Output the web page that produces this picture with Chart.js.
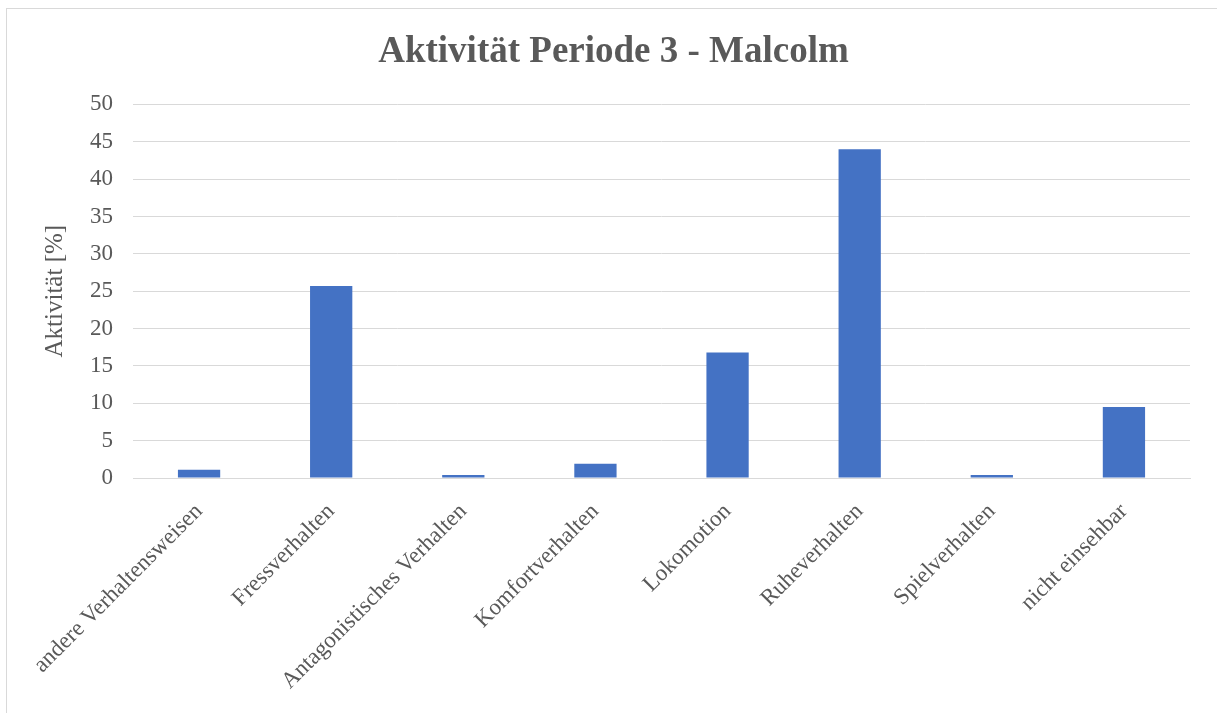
<!DOCTYPE html>
<html>
<head>
<meta charset="utf-8">
<script src="https://cdn.jsdelivr.net/npm/chart.js@4"></script>
<style>
    body { margin: 0; background: #fff; }
    #wrap { position: relative; width: 1217px; height: 713px; overflow: hidden; }
    #frame { position: absolute; left: 6px; top: 8px; width: 1300px; height: 800px; border: 1px solid #d9d9d9; box-sizing: border-box; }
    canvas { position: absolute; left: 0; top: 0; }
</style>
</head>
<body>
<div id="wrap">
    <div id="frame"></div>
    <canvas id="bar-chart" width="1217" height="713"></canvas>
</div>
<script>
const categories = [
    'andere Verhaltensweisen',
    'Fressverhalten',
    'Antagonistisches Verhalten',
    'Komfortverhalten',
    'Lokomotion',
    'Ruheverhalten',
    'Spielverhalten',
    'nicht einsehbar'
]
const aktivitaet = [1.1, 25.7, 0.4, 1.9, 16.8, 44.0, 0.4, 9.5]
const yTicks = [0, 5, 10, 15, 20, 25, 30, 35, 40, 45, 50]

const grey = '#595959'
const serif = "'Liberation Serif', 'Times New Roman', serif"

const ctx = document.getElementById('bar-chart').getContext('2d')
new Chart(ctx, {
    type: 'bar',
    data: {
        labels: categories,
        datasets: [{
            label: 'Aktivität',
            data: aktivitaet,
            backgroundColor: '#4472C4',
            borderWidth: 0,
            barPercentage: 0.32,
            categoryPercentage: 1
        }]
    },
    options: {
        responsive: false,
        animation: false,
        layout: { padding: { top: 30, right: 27, left: 37, bottom: 0 } },
        plugins: {
            legend: { display: false },
            tooltip: { enabled: false },
            title: {
                display: true,
                text: 'Aktivität Periode 3 - Malcolm',
                color: grey,
                font: { family: serif, size: 37, weight: 'bold' },
                padding: { top: 0, bottom: 30 }
            }
        },
        scales: {
            x: {
                grid: { display: false },
                border: { display: true, color: '#d9d9d9' },
                ticks: {
                    color: grey,
                    font: { family: serif, size: 23 },
                    minRotation: 45,
                    maxRotation: 45,
                    autoSkip: false,
                    padding: 12
                },
                afterFit: scale => { scale.height = 235 }
            },
            y: {
                min: 0,
                max: 50,
                afterBuildTicks: scale => { scale.ticks = yTicks.map(v => ({ value: v })) },
                grid: { color: '#d9d9d9', drawTicks: false },
                border: { display: false },
                ticks: {
                    color: grey,
                    font: { family: serif, size: 23 },
                    padding: 20
                },
                title: {
                    display: true,
                    text: 'Aktivität [%]',
                    color: grey,
                    font: { family: serif, size: 25 },
                    padding: { top: 3, bottom: 4 }
                },
                afterFit: scale => { scale.width = 96 }
            }
        }
    }
})
</script>
</body>
</html>
